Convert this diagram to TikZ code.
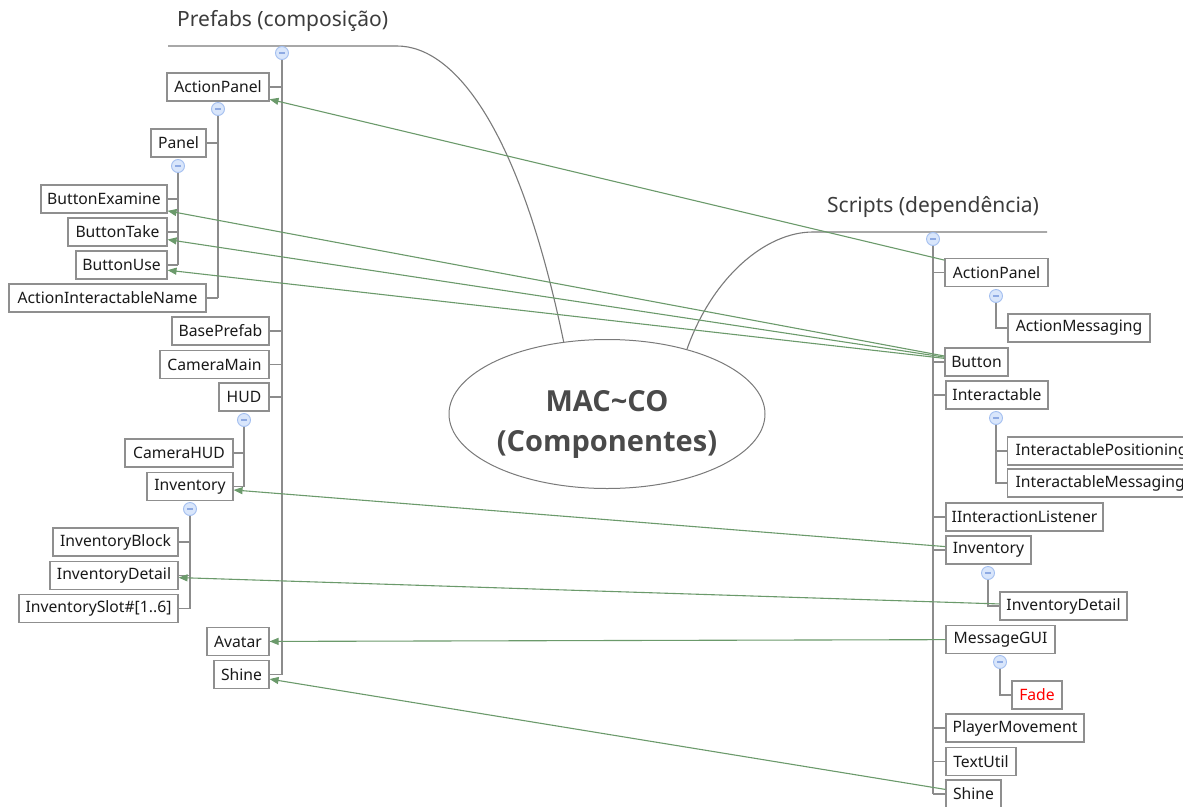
\documentclass[tikz,border=0pt]{standalone}
\usepackage{fontspec}
\setmainfont{Noto Sans}
\newfontfamily\corefont{Open Sans}
\usetikzlibrary{shapes.geometric,arrows.meta}
\definecolor{boxc}{HTML}{8F8F8F}
\definecolor{linec}{HTML}{8C8C8C}
\definecolor{relc}{HTML}{6B9A6B}
\definecolor{togf}{HTML}{D9E6FB}
\definecolor{togd}{HTML}{A3BFF0}
\definecolor{togm}{HTML}{8EAAE3}
\definecolor{txt}{HTML}{1A1A1A}
\definecolor{titlec}{HTML}{3C3C3C}
\definecolor{coretxt}{HTML}{4A4A4A}
\definecolor{corec}{HTML}{7A7A7A}
\definecolor{fadec}{HTML}{FF0000}
\newcommand\nfnt{\fontsize{15.7}{18}\selectfont}
\begin{document}
\begin{tikzpicture}[x=1pt,y=-1pt,
  box/.style={draw=boxc, line width=1.1pt, fill=white, minimum height=28pt, inner sep=0pt, font=\nfnt, text=txt},
  trunk/.style={draw=linec, line width=2pt},
  branch/.style={draw=linec, line width=1.3pt},
  curveline/.style={draw=corec, line width=1.1pt},
  rel/.style={draw=relc, line width=1.1pt, -{Triangle[length=9pt,width=7pt]}},
  tog/.style={circle, draw=togd, fill=togf, minimum size=13pt, inner sep=0pt, line width=0.9pt,
    path picture={\draw[togm, line width=1.1pt] ([xshift=-2.8pt]path picture bounding box.center) -- ([xshift=2.8pt]path picture bounding box.center);}},
  titlestyle/.style={font=\fontsize{21}{24}\selectfont, text=titlec, inner sep=0pt}
]
\useasboundingbox (0,0) rectangle (1183,806);

% central topic
\node[ellipse, draw=corec, line width=1pt, minimum width=316pt, minimum height=149pt, inner sep=0pt] (core) at (607,414) {};
\node[align=center, inner sep=0pt, font=\corefont\bfseries\fontsize{29}{40}\selectfont, text=coretxt] (coretext) at (607,424)
  {MAC\textasciitilde CO\\(Componentes)};

% titles and their lines
\node[titlestyle, anchor=west] (tPref) at (177,21) {Prefabs (composição)};
\node[titlestyle, anchor=west] (tScr) at (827,207) {Scripts (dependência)};
\coordinate (pl0) at (168,46);
\coordinate (pl1) at (397,46);
\draw[curveline] (pl0) -- (pl1) .. controls (455,46) and (520,130) .. (core.121);
\coordinate (sr0) at (1047,232);
\coordinate (sr1) at (813,232);
\draw[curveline] (sr0) -- (sr1) .. controls (765,232) and (712,278) .. (core.39);

% ---------------- left tree (Prefabs) ----------------
\node[box, minimum width=102pt] (lAP) at (218,87) {ActionPanel};
\node[box, minimum width=55pt] (lPanel) at (178.5,143) {Panel};
\node[box, minimum width=126pt] (lBE) at (104,199) {ButtonExamine};
\node[box, minimum width=99pt] (lBT) at (117.5,232) {ButtonTake};
\node[box, minimum width=91pt] (lBU) at (121.5,265) {ButtonUse};
\node[box, minimum width=197pt] (lAIN) at (107.5,298) {ActionInteractableName};
\node[box, minimum width=97pt] (lBP) at (220.5,331) {BasePrefab};
\node[box, minimum width=109pt] (lCM) at (214.5,364.5) {CameraMain};
\node[box, minimum width=50pt] (lHUD) at (244,397) {HUD};
\node[box, minimum width=108pt] (lCH) at (179,453) {CameraHUD};
\node[box, minimum width=86pt] (lInv) at (190,486.5) {Inventory};
\node[box, minimum width=125pt] (lIB) at (115.5,542) {InventoryBlock};
\node[box, minimum width=128pt] (lID) at (114,575.5) {InventoryDetail};
\node[box, minimum width=159pt] (lIS) at (98.5,608.5) {InventorySlot\#[1..6]};
\node[box, minimum width=62pt] (lAv) at (238,641.5) {Avatar};
\node[box, minimum width=55pt] (lSh) at (241.5,674.5) {Shine};

\node[tog] (tL) at (282,53) {};
\node[tog] (tAP) at (218,109) {};
\node[tog] (tPanel) at (178,166) {};
\node[tog] (tHUD) at (244,420) {};
\node[tog] (tInv) at (190,509) {};

\draw[trunk] (tL.south) -- (tL.south |- lSh.east);
\foreach \n in {lAP,lBP,lCM,lHUD,lAv,lSh} \draw[branch] (\n.east) -- (\n.east -| tL);
\draw[branch] (tAP.south) -- (tAP.south |- lAIN.east);
\foreach \n in {lPanel,lAIN} \draw[branch] (\n.east) -- (\n.east -| tAP);
\draw[branch] (tPanel.south) -- (tPanel.south |- lBU.east);
\foreach \n in {lBE,lBT,lBU} \draw[branch] (\n.east) -- (\n.east -| tPanel);
\draw[branch] (tHUD.south) -- (tHUD.south |- lInv.east);
\foreach \n in {lCH,lInv} \draw[branch] (\n.east) -- (\n.east -| tHUD);
\draw[branch] (tInv.south) -- (tInv.south |- lIS.east);
\foreach \n in {lIB,lID,lIS} \draw[branch] (\n.east) -- (\n.east -| tInv);

% ---------------- right tree (Scripts) ----------------
\node[box, minimum width=103pt] (rAP) at (996.5,272.5) {ActionPanel};
\node[box, minimum width=142pt] (rAM) at (1079,328) {ActionMessaging};
\node[box, minimum width=63pt] (rBtn) at (976.5,362) {Button};
\node[box, minimum width=102pt] (rInt) at (997,395) {Interactable};
\node[box, anchor=west, inner xsep=8pt] (rIP) at (1007,451) {InteractablePositioning};
\node[box, anchor=west, inner xsep=8pt] (rIM) at (1007,483) {InteractableMessaging};
\node[box, minimum width=157pt] (rIL) at (1024.5,517) {IInteractionListener};
\node[box, minimum width=85pt] (rInv) at (988.5,550) {Inventory};
\node[box, minimum width=127pt] (rID) at (1063.5,606) {InventoryDetail};
\node[box, minimum width=109pt] (rMG) at (1000.5,639.5) {MessageGUI};
\node[box, minimum width=50pt, text=fadec] (rFade) at (1037,695) {Fade};
\node[box, minimum width=138pt] (rPM) at (1015,728) {PlayerMovement};
\node[box, minimum width=70pt] (rTU) at (981,761.5) {TextUtil};
\node[box, minimum width=55pt] (rSh) at (973.5,794) {Shine};

\node[tog] (tR) at (933,239) {};
\node[tog] (tRAP) at (996,296) {};
\node[tog] (tRInt) at (996,418) {};
\node[tog] (tRInv) at (988,573) {};
\node[tog] (tRMG) at (1000,662) {};

\draw[trunk] (tR.south) -- (tR.south |- rSh.west);
\foreach \n in {rAP,rBtn,rInt,rIL,rInv,rMG,rPM,rTU,rSh} \draw[branch] (\n.west -| tR) -- (\n.west);
\draw[branch] (tRAP.south) |- (rAM.west);
\draw[branch] (tRInt.south) |- (rIM.west);
\draw[branch] (rIP.west -| tRInt) -- (rIP.west);
\draw[branch] (tRInv.south) |- (rID.west);
\draw[branch] (tRMG.south) |- (rFade.west);

% ---------------- relationships ----------------
\draw[rel] (rAP) -- (lAP);
\draw[rel] (rBtn) -- (lBE);
\draw[rel] (rBtn) -- (lBT);
\draw[rel] (rBtn) -- (lBU);
\draw[rel] (rInv) -- (lInv);
\draw[rel] (rID) -- (lID);
\draw[rel] (rMG) -- (lAv);
\draw[rel] (rSh) -- (lSh);
\end{tikzpicture}
\end{document}
